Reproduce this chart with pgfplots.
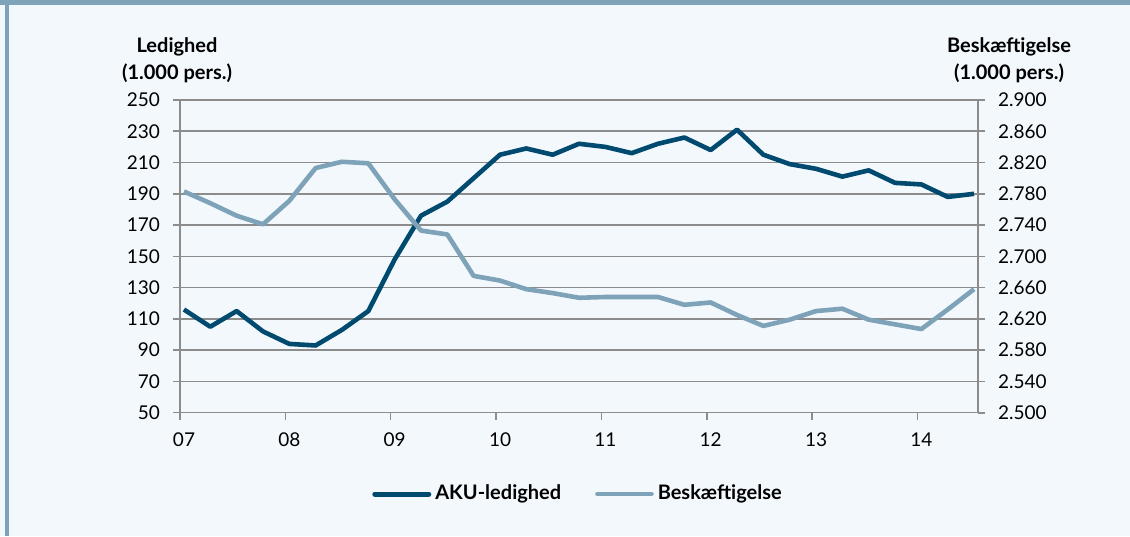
\documentclass[border=0pt]{standalone}
\usepackage{fontspec}
\setmainfont{Lato}
\usepackage{pgfplots}
\pgfplotsset{compat=1.18}
\definecolor{dark}{HTML}{004A70}
\definecolor{light}{HTML}{7EA3B8}
\definecolor{bg}{HTML}{F3F8FD}
\definecolor{gridc}{HTML}{8C8C8C}
\begin{document}
\begin{tikzpicture}[x=0.5pt,y=0.5pt]
\useasboundingbox (0,0) rectangle (1130,536);
\fill[bg] (0,0) rectangle (1130,536);
\fill[light] (0,531) rectangle (1130,536);
\fill[light] (5,0) rectangle (8.5,531);
\pgfplotsset{
  common/.style={
    at={(90pt,61.65pt)}, anchor=south west, scale only axis,
    width=399pt, height=156.35pt,
    xmin=-0.15, xmax=30.15,
    axis line style={gridc, line width=0.8pt},
    tick style={gridc, line width=0.8pt},
    major tick length=3.5pt,
    tick align=outside,
    tick label style={font=\fontsize{9.5}{10}\selectfont, text=black},
    /pgf/number format/assume math mode=true,
  }
}
\begin{axis}[common,
  ymin=50, ymax=250,
  axis y line*=left, axis x line*=bottom,
  ytick={50,70,...,250},
  ymajorgrids, grid style={gridc, line width=0.8pt},
  xtick={-0.15,3.85,7.85,11.85,15.85,19.85,23.85,27.85},
  xticklabels={07,08,09,10,11,12,13,14},
  xticklabel style={xshift=2pt, yshift=-3pt},
  yticklabel style={xshift=-3pt},
]
\addplot[dark, line width=2.3pt, line join=round, no markers] coordinates {
(0,116) (1,105) (2,115) (3,102) (4,94) (5,93) (6,103) (7,115) (8,148) (9,176)
(10,185) (11,200) (12,215) (13,219) (14,215) (15,222) (16,220) (17,216) (18,222) (19,226)
(20,218) (21,231) (22,215) (23,209) (24,206) (25,201) (26,205) (27,197) (28,196) (29,188) (30,190)
};
\end{axis}
\begin{axis}[common,
  ymin=2500, ymax=2900,
  axis y line*=right, axis x line=none,
  ytick={2500,2540,...,2900},
  /pgf/number format/.cd, 1000 sep={.}, /pgfplots/.cd,
  yticklabel style={xshift=3pt},
  legend style={at={(0.5,-0.26)}, anchor=center, draw=none, fill=none,
    legend columns=2, font=\bfseries\fontsize{10}{12}\selectfont,
    /tikz/every even column/.append style={column sep=15pt}},
  legend image code/.code={\draw[#1, line cap=round] (0pt,0pt) -- (27pt,0pt);},
]
\addlegendimage{dark, line width=2.5pt}
\addlegendentry{AKU-ledighed}
\addplot[light, line width=2.3pt, line join=round, no markers] coordinates {
(0,2783) (1,2768) (2,2752) (3,2741) (4,2771) (5,2813) (6,2821) (7,2819) (8,2773) (9,2733)
(10,2728) (11,2675) (12,2669) (13,2658) (14,2653) (15,2647) (16,2648) (17,2648) (18,2648) (19,2638)
(20,2641) (21,2625) (22,2611) (23,2619) (24,2630) (25,2633) (26,2619) (27,2613) (28,2607) (29,2632) (30,2658)
};
\addlegendentry{Beskæftigelse}
\end{axis}
\node[font=\bfseries\fontsize{10}{12}\selectfont, anchor=base] at (177,483) {Ledighed};
\node[font=\bfseries\fontsize{10}{12}\selectfont, anchor=base] at (177,456) {(1.000 pers.)};
\node[font=\bfseries\fontsize{10}{12}\selectfont, anchor=base] at (1009,483) {Beskæftigelse};
\node[font=\bfseries\fontsize{10}{12}\selectfont, anchor=base] at (1009,456) {(1.000 pers.)};
\end{tikzpicture}
\end{document}
